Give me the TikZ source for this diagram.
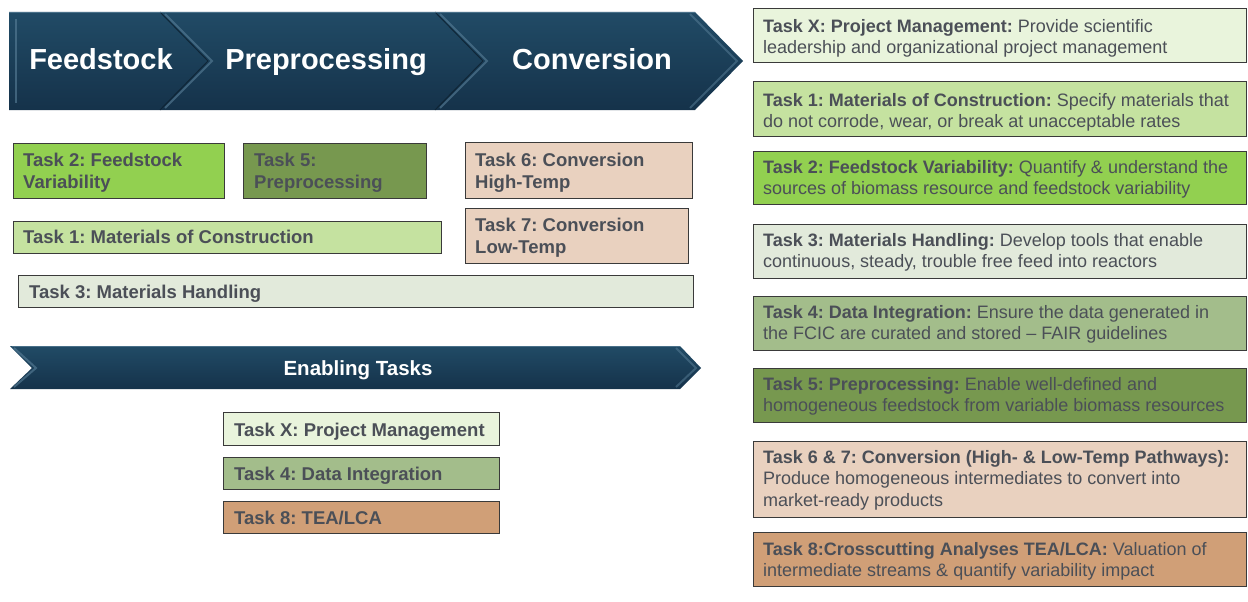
\documentclass[tikz,border=0pt]{standalone}
\usepackage{fontspec}
\setmainfont{Liberation Sans}
\frenchspacing
\definecolor{txt}{HTML}{4B4F57}
\definecolor{boxline}{HTML}{3A3A3A}
\definecolor{cX}{HTML}{E9F4DC}
\definecolor{cOne}{HTML}{C5E2A0}
\definecolor{cTwo}{HTML}{92D050}
\definecolor{cThree}{HTML}{E2EADB}
\definecolor{cFour}{HTML}{A3BD8B}
\definecolor{cFive}{HTML}{77984F}
\definecolor{cSix}{HTML}{E9D1BF}
\definecolor{cEight}{HTML}{D09F77}
\definecolor{bnTop}{HTML}{214B66}
\definecolor{bnBot}{HTML}{15324A}
\definecolor{bvLight}{HTML}{5A8099}
\definecolor{bvDark}{HTML}{0E2333}
\begin{document}
\begin{tikzpicture}[x=1pt,y=-1pt,
  tbox/.style={draw=boxline, line width=1pt, inner sep=0pt, outer sep=0pt, anchor=north west},
  ltxt/.style={inner sep=0pt, anchor=north west, align=left, text=txt, font=\fontsize{18.5}{22}\selectfont\bfseries},
  rtxt/.style={inner sep=0pt, anchor=north west, align=left, text=txt, font=\fontsize{18}{21.5}\selectfont},
  btxt/.style={inner sep=0pt, anchor=base, text=white, font=\fontsize{29}{34}\selectfont\bfseries},
  bnfill/.style={top color=bnTop, bottom color=bnBot},
  bvl/.style={draw=bvLight, line width=2pt, opacity=0.6, line join=miter},
  bvd/.style={draw=bvDark, line width=1pt, opacity=0.9}
]
\useasboundingbox (0,0) rectangle (1248,602);

% ---------- top banner ----------
\path[bnfill] (9,12) -- (695,12) -- (743,61) -- (695,110) -- (9,110) -- cycle;
\draw[bvl] (16,19) -- (16,103);
\draw[bvd] (160,12) -- (208,61) -- (160,110);
\draw[bvl] (165,14) -- (212,61) -- (165,108);
\draw[bvd] (435,12) -- (483,61) -- (435,110);
\draw[bvl] (440,14) -- (487,61) -- (440,108);
\draw[bvl, opacity=0.5] (690,14) -- (737,61) -- (690,108);
\draw[draw=bvLight, line width=0.8pt, opacity=0.7] (9,12.5) -- (695,12.5);
\node[btxt] (feed) at (101,70) {Feedstock};
\node[btxt] (prep) at (326,70) {Preprocessing};
\node[btxt] (conv) at (592,70) {Conversion};

% ---------- left task boxes ----------
\node[tbox, fill=cTwo, minimum width=211, minimum height=55] (L2) at (13,143) {};
\node[ltxt] (L2t) at ([xshift=10pt,yshift=-10pt]L2.north west) {Task 2: Feedstock\\Variability};
\node[tbox, fill=cFive, minimum width=183, minimum height=55] (L5) at (243,143) {};
\node[ltxt] (L5t) at ([xshift=11pt,yshift=-10pt]L5.north west) {Task 5:\\Preprocessing};
\node[tbox, fill=cSix, minimum width=227, minimum height=56] (L6) at (465,142) {};
\node[ltxt] (L6t) at ([xshift=10pt,yshift=-10.5pt]L6.north west) {Task 6: Conversion\\High-Temp};
\node[tbox, fill=cSix, minimum width=223, minimum height=55] (L7) at (465,208) {};
\node[ltxt] (L7t) at ([xshift=10pt,yshift=-10pt]L7.north west) {Task 7: Conversion\\Low-Temp};
\node[tbox, fill=cOne, minimum width=428, minimum height=32] (L1) at (13,221) {};
\node[ltxt] (L1t) at ([xshift=10pt,yshift=-9pt]L1.north west) {Task 1: Materials of Construction};
\node[tbox, fill=cThree, minimum width=675, minimum height=32] (L3) at (18,275) {};
\node[ltxt] (L3t) at ([xshift=11pt,yshift=-10pt]L3.north west) {Task 3: Materials Handling};

% ---------- enabling banner ----------
\path[bnfill] (10,346) -- (680,346) -- (701,368) -- (680,389) -- (10,389) -- (32,368) -- cycle;
\draw[bvl] (14,348) -- (36,368) -- (14,387);
\draw[bvl, opacity=0.5] (676,348) -- (696,368) -- (676,387);
\draw[draw=bvLight, line width=0.8pt, opacity=0.7] (12,346.5) -- (680,346.5);
\node[inner sep=0pt, anchor=base, text=white, font=\fontsize{20.5}{24}\selectfont\bfseries] (enab) at (358,375) {Enabling Tasks};

\node[tbox, fill=cX, minimum width=276, minimum height=33] (EX) at (223,412) {};
\node[ltxt] (EXt) at ([xshift=11pt,yshift=-10.5pt]EX.north west) {Task X: Project Management};
\node[tbox, fill=cFour, minimum width=276, minimum height=32] (E4) at (223,457) {};
\node[ltxt] (E4t) at ([xshift=11pt,yshift=-10pt]E4.north west) {Task 4: Data Integration};
\node[tbox, fill=cEight, minimum width=276, minimum height=32] (E8) at (223,501) {};
\node[ltxt] (E8t) at ([xshift=11pt,yshift=-10pt]E8.north west) {Task 8: TEA/LCA};

% ---------- right column ----------
\node[tbox, fill=cX, minimum width=493, minimum height=54] (RX) at (753,9) {};
\node[rtxt] (RXt) at ([xshift=10pt,yshift=-10pt]RX.north west) {\textbf{Task X: Project Management:} Provide scientific\\leadership and organizational project management};
\node[tbox, fill=cOne, minimum width=493, minimum height=54] (R1) at (753,82) {};
\node[rtxt] (R1t) at ([xshift=10pt,yshift=-11pt]R1.north west) {\textbf{Task 1: Materials of Construction:} Specify materials that\\do not corrode, wear, or break at unacceptable rates};
\node[tbox, fill=cTwo, minimum width=493, minimum height=53] (R2) at (753,151) {};
\node[rtxt] (R2t) at ([xshift=10pt,yshift=-9pt]R2.north west) {\textbf{Task 2: Feedstock Variability:} Quantify \& understand the\\sources of biomass resource and feedstock variability};
\node[tbox, fill=cThree, minimum width=493, minimum height=54] (R3) at (753,224) {};
\node[rtxt] (R3t) at ([xshift=10pt,yshift=-9pt]R3.north west) {\textbf{Task 3: Materials Handling:} Develop tools that enable\\continuous, steady, trouble free feed into reactors};
\node[tbox, fill=cFour, minimum width=493, minimum height=54] (R4) at (753,296) {};
\node[rtxt] (R4t) at ([xshift=10pt,yshift=-9pt]R4.north west) {\textbf{Task 4: Data Integration:} Ensure the data generated in\\the FCIC are curated and stored -- FAIR guidelines};
\node[tbox, fill=cFive, minimum width=493, minimum height=54] (R5) at (753,368) {};
\node[rtxt] (R5t) at ([xshift=10pt,yshift=-9pt]R5.north west) {\textbf{Task 5: Preprocessing:} Enable well-defined and\\homogeneous feedstock from variable biomass resources};
\node[tbox, fill=cSix, minimum width=493, minimum height=76] (R6) at (753,441) {};
\node[rtxt] (R6t) at ([xshift=10pt,yshift=-9pt]R6.north west) {\textbf{Task 6 \& 7: Conversion (High- \& Low-Temp Pathways):}\\Produce homogeneous intermediates to convert into\\market-ready products};
\node[tbox, fill=cEight, minimum width=493, minimum height=54] (R8) at (753,532) {};
\node[rtxt] (R8t) at ([xshift=10pt,yshift=-10pt]R8.north west) {\textbf{Task 8:Crosscutting Analyses TEA/LCA:} Valuation of\\intermediate streams \& quantify variability impact};
\end{tikzpicture}
\end{document}
